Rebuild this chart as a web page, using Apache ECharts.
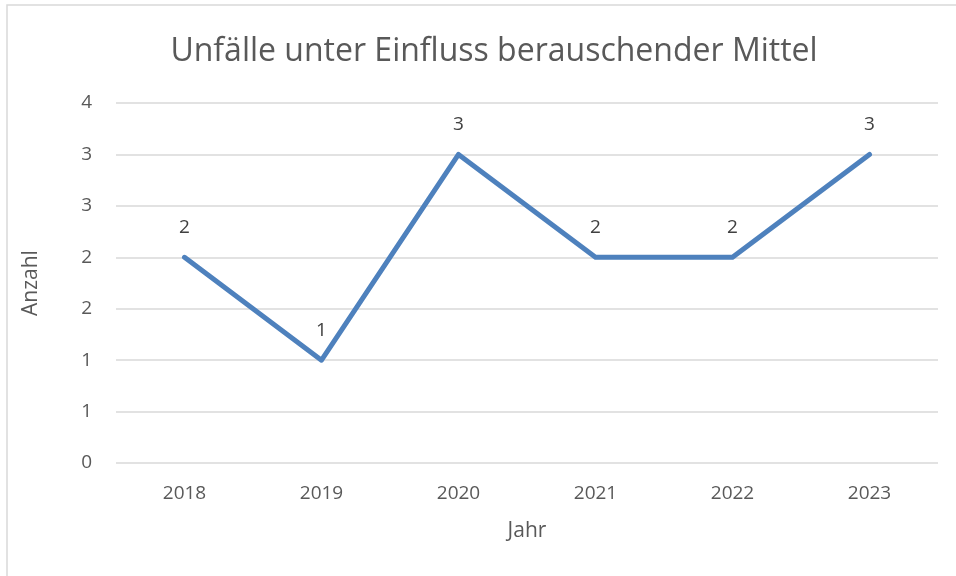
<!DOCTYPE html>
<html>
<head>
<meta charset="utf-8">
<script src="https://cdn.jsdelivr.net/npm/echarts@6/dist/echarts.min.js"></script>
<style>
  html, body { margin: 0; padding: 0; background: #fff; }
  #chart { width: 956px; height: 576px; }
</style>
</head>
<body>
<div id="chart"></div>
<script>
// Jahre und Anzahl
const years = ['2018', '2019', '2020', '2021', '2022', '2023'];
const anzahl = [2, 1, 3, 2, 2, 3];

const font = '"Open Sans", "Noto Sans", sans-serif';
const chart = echarts.init(document.getElementById('chart'));

chart.setOption({
  animation: false,
  backgroundColor: '#fff',
  textStyle: { fontFamily: font },
  title: {
    text: 'Unfälle unter Einfluss berauschender Mittel',
    left: 489,
    top: 31,
    textAlign: 'center',
    textStyle: { fontFamily: font, fontSize: 32, fontWeight: 'normal', color: '#595959' }
  },
  graphic: [{
    type: 'rect',
    shape: { x: 7, y: 5, width: 960, height: 600 },
    style: { fill: 'none', stroke: '#d9d9d9', lineWidth: 1.5 },
    silent: true
  }],
  grid: { left: 116, right: 18, top: 103, bottom: 113 },
  xAxis: {
    type: 'category',
    data: years,
    name: 'Jahr',
    nameLocation: 'middle',
    nameGap: 58,
    nameTextStyle: { fontSize: 21, color: '#595959' },
    axisLine: { show: false },
    axisTick: { show: false },
    axisLabel: { fontSize: 19, color: '#595959', margin: 21 }
  },
  yAxis: {
    type: 'value',
    min: 0,
    max: 3.5,
    interval: 0.5,
    name: 'Anzahl',
    nameLocation: 'middle',
    nameGap: 74,
    nameTextStyle: { fontSize: 21, color: '#595959' },
    axisLine: { show: false },
    axisTick: { show: false },
    axisLabel: {
      fontSize: 19, color: '#595959', margin: 24,
      formatter: v => String(Math.round(v))
    },
    splitLine: { lineStyle: { color: '#d9d9d9', width: 1.5 } }
  },
  series: [{
    type: 'line',
    data: anzahl,
    showSymbol: true,
    symbol: 'circle',
    symbolSize: 0,
    lineStyle: { color: '#4e81bd', width: 5, cap: 'round', join: 'round' },
    itemStyle: { color: '#4e81bd' },
    label: {
      show: true,
      position: 'top',
      distance: 20,
      fontSize: 19,
      color: '#404040'
    }
  }]
});
</script>
</body>
</html>
